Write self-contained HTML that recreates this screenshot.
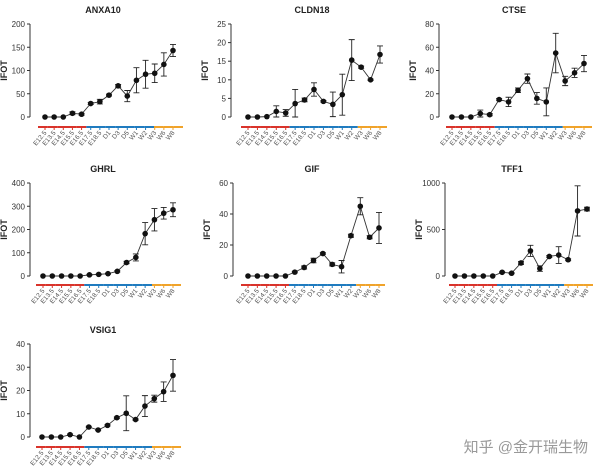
<!DOCTYPE html>
<html><head><meta charset="utf-8"><style>
body{margin:0;background:#fff;width:600px;height:474px;overflow:hidden}
svg{display:block;font-family:"Liberation Sans",Arial,sans-serif}
</style></head><body>
<svg id="c" width="600" height="474"></svg>
<script>
const categories=["E12.5","E13.5","E14.5","E15.5","E16.5","E17.5","E18.5","D1","D3","D5","W1","W2","W3","W6","W8"];
const anxa10Values=[0,0,0,8,6,29,33,47,67,45,79,92,94,113,143];
const anxa10Errors=[0,0,0,3,2,2,5,2,3,12,27,30,20,25,13];
const cldn18Values=[0,0,0.1,1.5,1.1,3.6,4.6,7.4,4.2,3.4,6,15.3,13.4,10,16.8];
const cldn18Errors=[0,0,0,1.5,0.9,3.8,0.5,1.8,0.2,3.3,5.5,5.5,0.3,0.2,2.3];
const ctseValues=[0,0,0,3,2,15,13,23,33,16,13,55,31,38,46];
const ctseErrors=[0,0,0,3,1,1,4,2,4,5,12,17,4,4,7];
const ghrlValues=[0,0,0,0,0,5,7,10,20,58,80,182,242,270,285];
const ghrlErrors=[0,0,0,0,0,2,2,2,3,5,15,48,48,25,30];
const gifValues=[0,0,0,0,0,2.5,5.5,10,14.5,7.5,6,26,45,25,31];
const gifErrors=[0,0,0,0,0,0.5,1,1.5,0.5,1,4,1,5.5,1,10];
const tff1Values=[0,0,0,0,0,40,30,140,270,80,210,225,175,700,720];
const tff1Errors=[0,0,0,0,0,5,5,15,60,30,10,90,10,270,20];
const vsig1Values=[0,0,0,1,0,4.3,3,5,8.3,10.2,7.5,13.3,16.5,19.5,26.5];
const vsig1Errors=[0,0,0,0.3,0,0.3,0.3,0.3,0.3,7.5,0.3,4.5,1.5,4.2,6.8];
const anxa10Ticks=[0,50,100,150,200];
const cldn18Ticks=[0,5,10,15,20,25];
const ctseTicks=[0,20,40,60,80];
const ghrlTicks=[0,100,200,300,400];
const gifTicks=[0,20,40,60];
const tff1Ticks=[0,500,1000];
const vsig1Ticks=[0,10,20,30,40];
const groupColors=["#d9332b","#1f7bbf","#f0a32a"];
const groupOf=[0,0,0,0,0,1,1,1,1,1,1,1,2,2,2];

const svg=document.getElementById('c');
const NS="http://www.w3.org/2000/svg";
function mk(t,a,p){const e=document.createElementNS(NS,t);for(const k in a)e.setAttribute(k,a[k]);(p||svg).appendChild(e);return e;}

function panel(name,vals,errs,ticks,ax,yTop,y0,x0,x1,bx0,bx1,by,tx){
  const g=mk('g',{});
  
  
  const max=ticks[ticks.length-1];
  const ys=v=>y0-(v/max)*(y0-yTop);
  const xs=i=>x0+i*(x1-x0)/(categories.length-1);
  const t=mk('text',{x:tx,y:yTop-11,'text-anchor':'middle','font-size':'9','font-weight':'bold',fill:'#222'},g);
  t.textContent=name;
  
  
  const axis=mk('line',{x1:ax,x2:ax,y1:yTop,y2:y0,stroke:'#333','stroke-width':'1'},g);
  
  
  ticks.forEach(v=>{
    mk('line',{x1:ax-3,x2:ax,y1:ys(v),y2:ys(v),stroke:'#333'},g);
    const l=mk('text',{x:ax-5,y:ys(v)+3,'text-anchor':'end','font-size':'8',fill:'#333'},g);
    l.textContent=v;
    
    
  });
  const yl=mk('text',{x:0,y:0,transform:`translate(${ax-23},${(yTop+y0)/2}) rotate(-90)`,'text-anchor':'middle','font-size':'9','font-weight':'bold',fill:'#222'},g);
  yl.textContent='IFOT';
  
  
  // group bar
  const n=categories.length, step=(bx1-bx0)/n;
  categories.forEach((c,i)=>{
    const seg=mk('line',{x1:bx0+i*step,x2:bx0+(i+1)*step,y1:by,y2:by,stroke:groupColors[groupOf[i]],'stroke-width':'2'},g);
    
    
    const cx=xs(i);
    mk('line',{x1:cx,x2:cx,y1:by,y2:by+3,stroke:groupColors[groupOf[i]],'stroke-width':'1'},g);
    const lb=mk('text',{x:0,y:0,transform:`translate(${cx+2},${by+6}) rotate(-50)`,'text-anchor':'end','font-size':'6.5',fill:'#555'},g);
    lb.textContent=c;
    
    
  });
  let d='';
  vals.forEach((v,i)=>{d+=(i?'L':'M')+xs(i)+','+ys(v);});
  const ln=mk('path',{d:d,fill:'none',stroke:'#333','stroke-width':'0.9'},g);
  
  
  vals.forEach((v,i)=>{
    const e=errs[i];
    if(e>0){
      const x=xs(i),a=ys(v+e),b=ys(Math.max(0,v-e));
      mk('path',{d:`M${x},${a}L${x},${b}M${x-3},${a}L${x+3},${a}M${x-3},${b}L${x+3},${b}`,stroke:'#222','stroke-width':'0.9',fill:'none'},g);
    }
    const p=mk('circle',{cx:xs(i),cy:ys(v),r:'2.8',fill:'#111'},g);
    
    
  });
}
panel('ANXA10',anxa10Values,anxa10Errors,anxa10Ticks,30,24,117,45,173,38,183,127,103);
panel('CLDN18',cldn18Values,cldn18Errors,cldn18Ticks,231,24,117,248,380,241,387,127,312);
panel('CTSE',ctseValues,ctseErrors,ctseTicks,439,24,117,452,584,446,592,127,514);
panel('GHRL',ghrlValues,ghrlErrors,ghrlTicks,30,183,276,43,173,36,181,285,103);
panel('GIF',gifValues,gifErrors,gifTicks,233,183,276,248,379,241,385,285,312);
panel('TFF1',tff1Values,tff1Errors,tff1Ticks,445,183,276,455,587,449,593,285,512);
panel('VSIG1',vsig1Values,vsig1Errors,vsig1Ticks,30,344,437,42,173,36,181,447,103);
const wm=mk('text',{x:588,y:452,'text-anchor':'end','font-size':'15',fill:'#999','font-family':'"Liberation Sans","Noto Sans CJK SC",sans-serif'});
wm.textContent='知乎 @金开瑞生物';


</script>
</body></html>
